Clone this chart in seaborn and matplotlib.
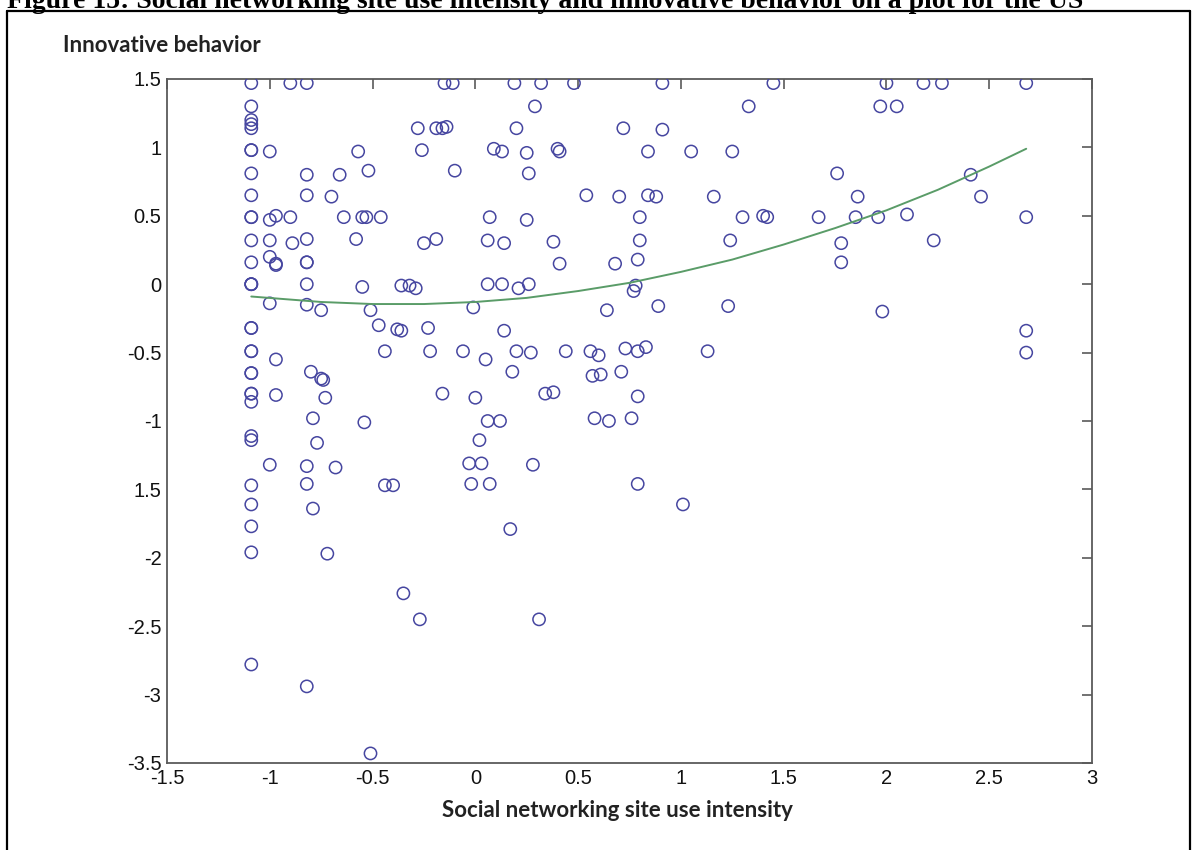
import matplotlib
matplotlib.use("Agg")
import matplotlib.pyplot as plt
import seaborn as sns
import pandas as pd
from matplotlib.lines import Line2D

# ---------------- data ----------------
title_text = "Figure 15: Social networking site use intensity and innovative behavior on a plot for the US"
x_label = "Social networking site use intensity"
y_label = "Innovative behavior"

# respondents at the minimum intensity (vertical column at x = -1.09)
left_col_x = -1.09
left_col_y = [1.47, 1.30, 1.20, 1.17, 1.14, 0.98, 0.98, 0.81, 0.65, 0.49, 0.49,
              0.32, 0.16, 0.0, 0.0, 0.0, -0.32, -0.32, -0.49, -0.49, -0.65, -0.65,
              -0.80, -0.80, -0.86, -1.11, -1.14, -1.47, -1.61, -1.77, -1.96, -2.78]

# all other respondents
intensity = [
    -1.00, -1.00, -0.97, -1.00, -1.00, -0.97, -0.97, -1.00, -0.97, -0.97, -1.00,
    -0.90, -0.90, -0.89,
    -0.82, -0.82, -0.82, -0.82, -0.82, -0.82, -0.82, -0.82, -0.80, -0.82, -0.82, -0.82,
    -0.79, -0.79, -0.77, -0.75, -0.75, -0.74, -0.73, -0.72, -0.68,
    -0.66, -0.70, -0.64, -0.58, -0.57, -0.55, -0.53, -0.52, -0.46, -0.55, -0.51, -0.54,
    -0.47, -0.44, -0.44, -0.40, -0.51,
    -0.38, -0.36, -0.36, -0.32, -0.29, -0.23, -0.22, -0.35, -0.27,
    -0.28, -0.26, -0.25, -0.19, -0.19, -0.16, -0.14, -0.15, -0.11, -0.10, -0.16,
    -0.01, -0.06, 0.05, 0.00, 0.06, 0.12, 0.02, -0.03, 0.03, -0.02, 0.07, 0.17, 0.31,
    0.06, 0.13, 0.21, 0.26, 0.14, 0.20, 0.27, 0.18, 0.28, 0.34, 0.38, 0.44,
    0.06, 0.14, 0.07, 0.25, 0.09, 0.13, 0.25, 0.26, 0.20, 0.29, 0.19, 0.32, 0.48,
    0.38, 0.40, 0.41, 0.41,
    0.54, 0.70, 0.84, 0.88, 0.68, 0.79, 0.80, 0.80, 0.72, 0.84, 0.91, 0.91, 1.05,
    1.16, 1.24, 1.25, 1.30, 1.33, 1.40, 1.42, 1.45,
    0.56, 0.60, 0.57, 0.61, 0.64, 0.71, 0.73, 0.79, 0.83, 0.78, 0.77, 0.89, 0.58,
    0.65, 0.76, 0.79, 0.79, 1.01, 1.13, 1.23,
    1.67, 1.76, 1.78, 1.78, 1.85, 1.86, 1.96, 1.97, 2.00, 2.05, 2.10, 2.18, 2.23,
    2.27, 2.41, 2.46, 2.68, 2.68, 1.98, 2.68, 2.68,
]
innovation = [
    0.97, 0.47, 0.50, 0.32, 0.20, 0.14, 0.15, -0.14, -0.55, -0.81, -1.32,
    1.47, 0.49, 0.30,
    1.47, 0.80, 0.65, 0.33, 0.16, 0.16, 0.00, -0.15, -0.64, -1.33, -1.46, -2.94,
    -0.98, -1.64, -1.16, -0.19, -0.69, -0.70, -0.83, -1.97, -1.34,
    0.80, 0.64, 0.49, 0.33, 0.97, 0.49, 0.49, 0.83, 0.49, -0.02, -0.19, -1.01,
    -0.30, -0.49, -1.47, -1.47, -3.43,
    -0.33, -0.34, -0.01, -0.01, -0.03, -0.32, -0.49, -2.26, -2.45,
    1.14, 0.98, 0.30, 0.33, 1.14, 1.14, 1.15, 1.47, 1.47, 0.83, -0.80,
    -0.17, -0.49, -0.55, -0.83, -1.00, -1.00, -1.14, -1.31, -1.31, -1.46, -1.46, -1.79, -2.45,
    0.00, 0.00, -0.03, 0.00, -0.34, -0.49, -0.50, -0.64, -1.32, -0.80, -0.79, -0.49,
    0.32, 0.30, 0.49, 0.47, 0.99, 0.97, 0.96, 0.81, 1.14, 1.30, 1.47, 1.47, 1.47,
    0.31, 0.99, 0.97, 0.15,
    0.65, 0.64, 0.65, 0.64, 0.15, 0.18, 0.49, 0.32, 1.14, 0.97, 1.13, 1.47, 0.97,
    0.64, 0.32, 0.97, 0.49, 1.30, 0.50, 0.49, 1.47,
    -0.49, -0.52, -0.67, -0.66, -0.19, -0.64, -0.47, -0.49, -0.46, -0.01, -0.05, -0.16, -0.98,
    -1.00, -0.98, -0.82, -1.46, -1.61, -0.49, -0.16,
    0.49, 0.81, 0.30, 0.16, 0.49, 0.64, 0.49, 1.30, 1.47, 1.30, 0.51, 1.47, 0.32,
    1.47, 0.80, 0.64, 1.47, 0.49, -0.20, -0.34, -0.50,
]

# fitted quadratic trend
curve_x = [-1.09, -0.75, -0.5, -0.25, 0.0, 0.25, 0.5, 0.75, 1.0, 1.25, 1.5,
           1.75, 2.0, 2.25, 2.5, 2.68]
curve_y = [-0.09, -0.13, -0.145, -0.145, -0.13, -0.10, -0.05, 0.01, 0.09, 0.18,
           0.29, 0.41, 0.54, 0.69, 0.86, 0.99]

x_ticks = [-1.5, -1, -0.5, 0, 0.5, 1, 1.5, 2, 2.5, 3]
x_tick_labels = ["-1.5", "-1", "-0.5", "0", "0.5", "1", "1.5", "2", "2.5", "3"]
y_ticks = [1.5, 1, 0.5, 0, -0.5, -1, -1.5, -2, -2.5, -3, -3.5]
y_tick_labels = ["1.5", "1", "0.5", "0", "-0.5", "-1", "1.5", "-2", "-2.5", "-3", "-3.5"]

# ---------------- drawing ----------------
df = pd.DataFrame({
    "x": [left_col_x] * len(left_col_y) + intensity,
    "y": left_col_y + innovation,
})
curve = pd.DataFrame({"x": curve_x, "y": curve_y})

sns.set_style("white")
plt.rcParams["font.family"] = ["Liberation Sans", "DejaVu Sans"]

W, H = 1196, 850
fig = plt.figure(figsize=(W / 100, H / 100), dpi=100)
ax = fig.add_axes([167 / W, 1 - 763 / H, (1092 - 167) / W, (763 - 79) / H])

circle_col = "#4646a0"
line_col = "#5a9c68"
axis_col = "#5a5a5a"

sns.scatterplot(data=df, x="x", y="y", ax=ax, marker="o", s=78,
                facecolor="none", edgecolor=circle_col, linewidth=1.1, zorder=3)
sns.lineplot(data=curve, x="x", y="y", ax=ax, color=line_col, linewidth=1.4,
             sort=True, zorder=4)

ax.set_xlim(-1.5, 3)
ax.set_ylim(-3.5, 1.5)
ax.set_xticks(x_ticks)
ax.set_xticklabels(x_tick_labels)
ax.set_yticks(y_ticks)
ax.set_yticklabels(y_tick_labels)
ax.tick_params(axis="both", which="major", direction="in", length=7, width=1.2,
               color=axis_col, labelsize=14.5, labelcolor="#111111", pad=4,
               top=True, right=True)
for sp in ax.spines.values():
    sp.set_visible(True)
    sp.set_color(axis_col)
    sp.set_linewidth(1.3)

lab_font = dict(family=["Lato", "DejaVu Sans"], fontweight="bold", fontsize=16,
                color="#222222")
ax.set_xlabel(x_label, **lab_font)
ax.xaxis.set_label_coords((617 - 167) / 925, -0.054)
ax.set_ylabel(y_label, rotation=0, ha="left", va="center", **lab_font)
ax.yaxis.set_label_coords((63 - 167) / 925, (763 - 45) / 684)

# document caption (partially cut at the top) and frame
fig.text(7 / W, 1 - 7.5 / H, title_text, family=["Liberation Serif", "DejaVu Serif"],
         fontweight="bold", fontsize=20, va="baseline", ha="left", color="black")
frame_kw = dict(color="black", linewidth=1.6, transform=fig.transFigure)
fig.add_artist(Line2D([7 / W, 7 / W], [0, 1 - 11 / H], **frame_kw))
fig.add_artist(Line2D([7 / W, 1190 / W], [1 - 11 / H, 1 - 11 / H], **frame_kw))
fig.add_artist(Line2D([1190 / W, 1190 / W], [0, 1 - 11 / H], **frame_kw))

fig.savefig("out.png", dpi=100)
